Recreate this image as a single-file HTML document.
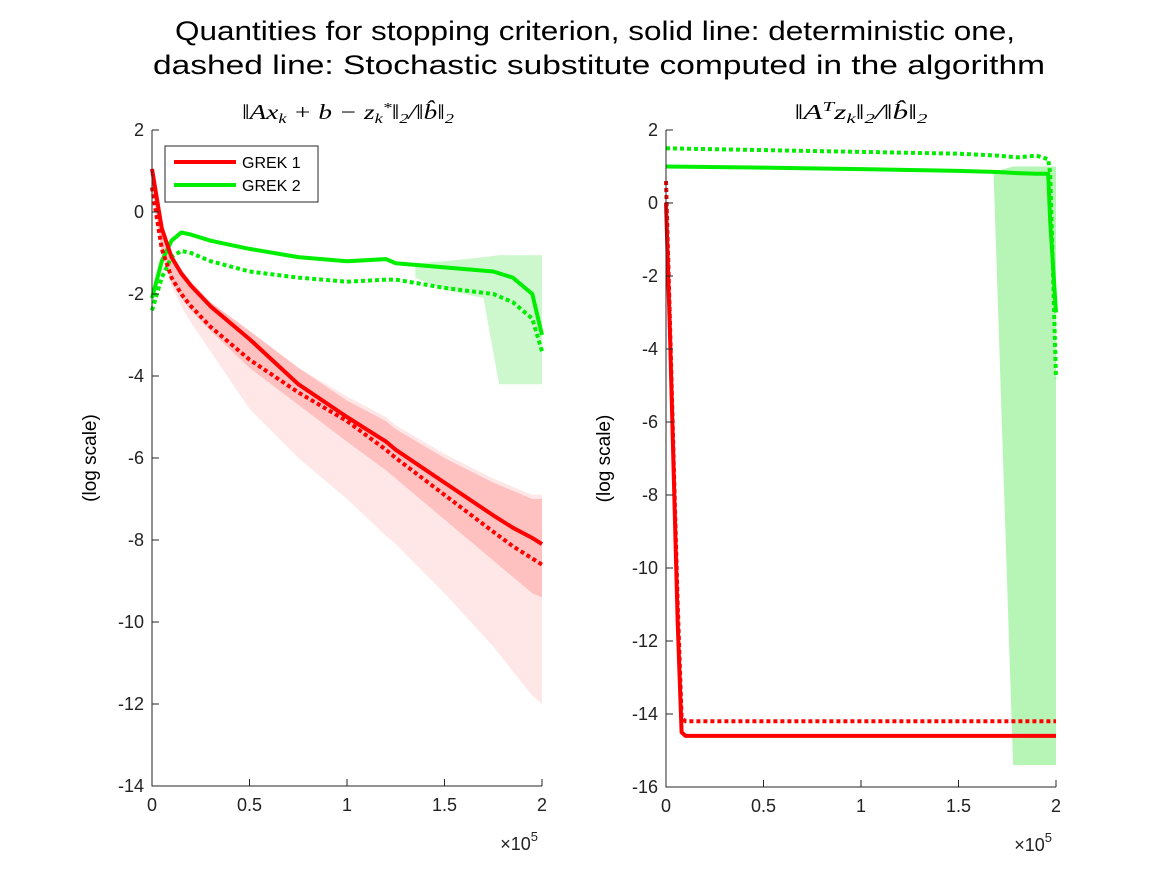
<!DOCTYPE html>
<html><head><meta charset="utf-8">
<style>
body{margin:0;background:#fff;}
svg{display:block;font-family:"Liberation Sans",sans-serif;}
.tick{font-size:18px;fill:#222;}
</style></head>
<body>
<svg id="fig" width="1167" height="875" xmlns="http://www.w3.org/2000/svg">
<text x="595" y="40" text-anchor="middle" font-size="27" fill="#000" textLength="840" lengthAdjust="spacingAndGlyphs">Quantities for stopping criterion, solid line: deterministic one,</text>
<text x="599" y="74" text-anchor="middle" font-size="27" fill="#000" textLength="892" lengthAdjust="spacingAndGlyphs">dashed line: Stochastic substitute computed in the algorithm</text>
<text x="348" y="119" text-anchor="middle" font-size="21" font-family="Liberation Serif,serif" font-style="italic" textLength="212" lengthAdjust="spacingAndGlyphs">‖Ax<tspan font-size="14" dy="4">k</tspan><tspan dy="-4"> + b − z</tspan><tspan font-size="14" dy="4">k</tspan><tspan font-size="14" dy="-11">*</tspan><tspan dy="7">‖</tspan><tspan font-size="14" dy="4">2</tspan><tspan dy="-4">/‖b̂‖</tspan><tspan font-size="14" dy="4">2</tspan></text>
<text x="861" y="119" text-anchor="middle" font-size="21" font-family="Liberation Serif,serif" font-style="italic" textLength="133" lengthAdjust="spacingAndGlyphs">‖A<tspan font-size="14" dy="-8">T</tspan><tspan dy="8">z</tspan><tspan font-size="14" dy="4">k</tspan><tspan dy="-4">‖</tspan><tspan font-size="14" dy="4">2</tspan><tspan dy="-4">/‖b̂‖</tspan><tspan font-size="14" dy="4">2</tspan></text>
<g id="left"></g>
<g id="right"></g>
</svg>
<script>
// x in units of 1e5
const xTicks=[0,0.5,1,1.5,2];
const xTickLabels=["0","0.5","1","1.5","2"];
const leftYTicks=[2,0,-2,-4,-6,-8,-10,-12,-14];
const rightYTicks=[2,0,-2,-4,-6,-8,-10,-12,-14,-16];

const L_x=[0,0.05,0.1,0.15,0.2,0.3,0.5,0.75,1.0,1.2,1.25,1.5,1.75,1.85,1.95,2.0];
const L_red=[1.05,-0.4,-1.1,-1.5,-1.8,-2.3,-3.1,-4.2,-5.0,-5.6,-5.8,-6.6,-7.4,-7.7,-7.95,-8.1];
const L_redDash=[0.6,-0.9,-1.6,-2.0,-2.3,-2.8,-3.6,-4.4,-5.1,-5.8,-6.0,-6.9,-7.8,-8.15,-8.45,-8.6];
const L_green=[-2.1,-1.2,-0.7,-0.5,-0.55,-0.7,-0.9,-1.1,-1.2,-1.15,-1.25,-1.35,-1.45,-1.6,-2.0,-3.0];
const L_greenDash=[-2.4,-1.6,-1.1,-0.95,-1.0,-1.2,-1.45,-1.6,-1.7,-1.65,-1.65,-1.85,-2.0,-2.2,-2.6,-3.4];
const L_redBandHi=[1.05,-0.3,-1.0,-1.4,-1.7,-2.2,-2.9,-3.8,-4.6,-5.1,-5.3,-6.0,-6.6,-6.8,-7.0,-7.0];
const L_redBandLo=[0.6,-1.0,-1.7,-2.1,-2.4,-2.9,-3.8,-4.7,-5.6,-6.3,-6.5,-7.5,-8.5,-8.9,-9.3,-9.4];
const L_redLightHi=[1.05,-0.3,-1.0,-1.4,-1.7,-2.2,-2.9,-3.8,-4.5,-5.0,-5.2,-5.9,-6.5,-6.7,-6.9,-6.9];
const L_redLightLo=[0.6,-1.0,-1.8,-2.3,-2.7,-3.4,-4.8,-6.0,-7.0,-7.9,-8.1,-9.3,-10.6,-11.2,-11.8,-12.0];
const L_gbX=[1.35,1.5,1.7,1.78,1.9,2.0];
const L_gbHi=[-1.25,-1.2,-1.1,-1.05,-1.05,-1.05];
const L_gbLo=[-1.6,-1.9,-2.1,-4.2,-4.2,-4.2];

const R_x=[0,0.02,0.04,0.06,0.08,0.1,0.5,1.0,1.5,1.8,2.0];
const R_red=[0,-3.5,-7.5,-11.5,-14.5,-14.6,-14.6,-14.6,-14.6,-14.6,-14.6];
const R_redDash=[0.6,-3.2,-7.2,-11,-14.1,-14.2,-14.2,-14.2,-14.2,-14.2,-14.2];
const R_gx=[0,0.5,1.0,1.5,1.7,1.8,1.9,1.96,1.97,2.0];
const R_green=[1.0,0.97,0.93,0.88,0.85,0.82,0.8,0.8,-0.5,-3.0];
const R_greenDash=[1.5,1.45,1.4,1.35,1.3,1.25,1.3,1.2,0.8,-4.8];
const R_gbX=[1.68,1.78,1.98,2.0];
const R_gbHi=[0.85,1.0,1.0,1.0];
const R_gbLo=[0.8,-15.4,-15.4,-15.4];

const NS="http://www.w3.org/2000/svg";
function mk(parent,tag,attrs){const e=document.createElementNS(NS,tag);for(const k in attrs)e.setAttribute(k,attrs[k]);parent.appendChild(e);return e;}

function axes(g,x0,x1,y0,y1,ymax,ymin,yTicks){
  const sx=v=>x0+(v-0)/(2-0)*(x1-x0);
  const sy=v=>y0+(ymax-v)/(ymax-ymin)*(y1-y0);
  return {sx,sy,draw(){
    const ax=mk(g,'path',{d:`M${x0},${y0}V${y1}H${x1}`,fill:'none',stroke:'#262626','stroke-width':1});
    
    xTicks.forEach((t,i)=>{
      const tk=mk(g,'line',{x1:sx(t),x2:sx(t),y1:y1,y2:y1-7,stroke:'#262626'});
      
      const tx=mk(g,'text',{x:sx(t),y:y1+25,'text-anchor':'middle',class:'tick'});tx.textContent=xTickLabels[i];
      
    });
    yTicks.forEach(t=>{
      const tk=mk(g,'line',{x1:x0,x2:x0+7,y1:sy(t),y2:sy(t),stroke:'#262626'});
      
      const tx=mk(g,'text',{x:x0-8,y:sy(t)+6,'text-anchor':'end',class:'tick'});tx.textContent=String(t);
      
    });
    const ex=mk(g,'text',{x:x1-4,y:y1+64,'text-anchor':'end',class:'tick'});ex.innerHTML='×10<tspan font-size="13" dy="-9">5</tspan>';
    
    const yl=mk(g,'text',{x:0,y:0,'text-anchor':'middle','font-size':19,transform:`translate(${x0-56},${(y0+y1)/2}) rotate(-90)`});yl.textContent='(log scale)';
    
  }};
}
function line(g,A,xs,ys,color,dash,name){
  const d=xs.map((x,i)=>(i?'L':'M')+A.sx(x).toFixed(1)+','+A.sy(ys[i]).toFixed(1)).join('');
  const p=mk(g,'path',{d,fill:'none',stroke:color,'stroke-width':4,'stroke-dasharray':dash?'4 3':'none','stroke-linejoin':'round'});
  
}
function band(g,A,xs,hi,lo,color,op,name){
  let d=xs.map((x,i)=>(i?'L':'M')+A.sx(x).toFixed(1)+','+A.sy(hi[i]).toFixed(1)).join('');
  for(let i=xs.length-1;i>=0;i--)d+='L'+A.sx(xs[i]).toFixed(1)+','+A.sy(lo[i]).toFixed(1);
  const p=mk(g,'path',{d:d+'Z',fill:color,'fill-opacity':op,stroke:'none'});
  
}
const gl=document.getElementById('left');
const AL=axes(gl,152,542,130,786,2,-14,leftYTicks);
band(gl,AL,L_x,L_redLightHi,L_redLightLo,'#ffb0b0',0.3,'red-band-light');
band(gl,AL,L_x,L_redBandHi,L_redBandLo,'#ff9090',0.45,'red-band');
band(gl,AL,L_gbX,L_gbHi,L_gbLo,'#90f090',0.45,'green-band');
line(gl,AL,L_x,L_green,'#00ee00',false,'grek2-solid');
line(gl,AL,L_x,L_greenDash,'#00ee00',true,'grek2-dashed');
line(gl,AL,L_x,L_red,'#ff0000',false,'grek1-solid');
line(gl,AL,L_x,L_redDash,'#ff0000',true,'grek1-dashed');
AL.draw();
const gr=document.getElementById('right');
const AR=axes(gr,666,1056,130,787,2,-16,rightYTicks);
band(gr,AR,R_gbX,R_gbHi,R_gbLo,'#90f090',0.65,'green-band');
line(gr,AR,R_x,R_red,'#ff0000',false,'grek1-solid');
line(gr,AR,R_x,R_redDash,'#ff0000',true,'grek1-dashed');
line(gr,AR,R_gx,R_green,'#00ee00',false,'grek2-solid');
line(gr,AR,R_gx,R_greenDash,'#00ee00',true,'grek2-dashed');
AR.draw();
// legend
const lg=mk(gl,'g',{});

mk(lg,'rect',{x:165,y:146,width:153,height:56,fill:'#fff',stroke:'#262626'});
mk(lg,'line',{x1:174,x2:236,y1:162,y2:162,stroke:'#ff0000','stroke-width':4});
mk(lg,'line',{x1:174,x2:236,y1:185,y2:185,stroke:'#00ee00','stroke-width':4});
const t1=mk(lg,'text',{x:242,y:168,'font-size':16});t1.textContent='GREK 1';

const t2=mk(lg,'text',{x:242,y:191,'font-size':16});t2.textContent='GREK 2';

</script>
</body></html>
